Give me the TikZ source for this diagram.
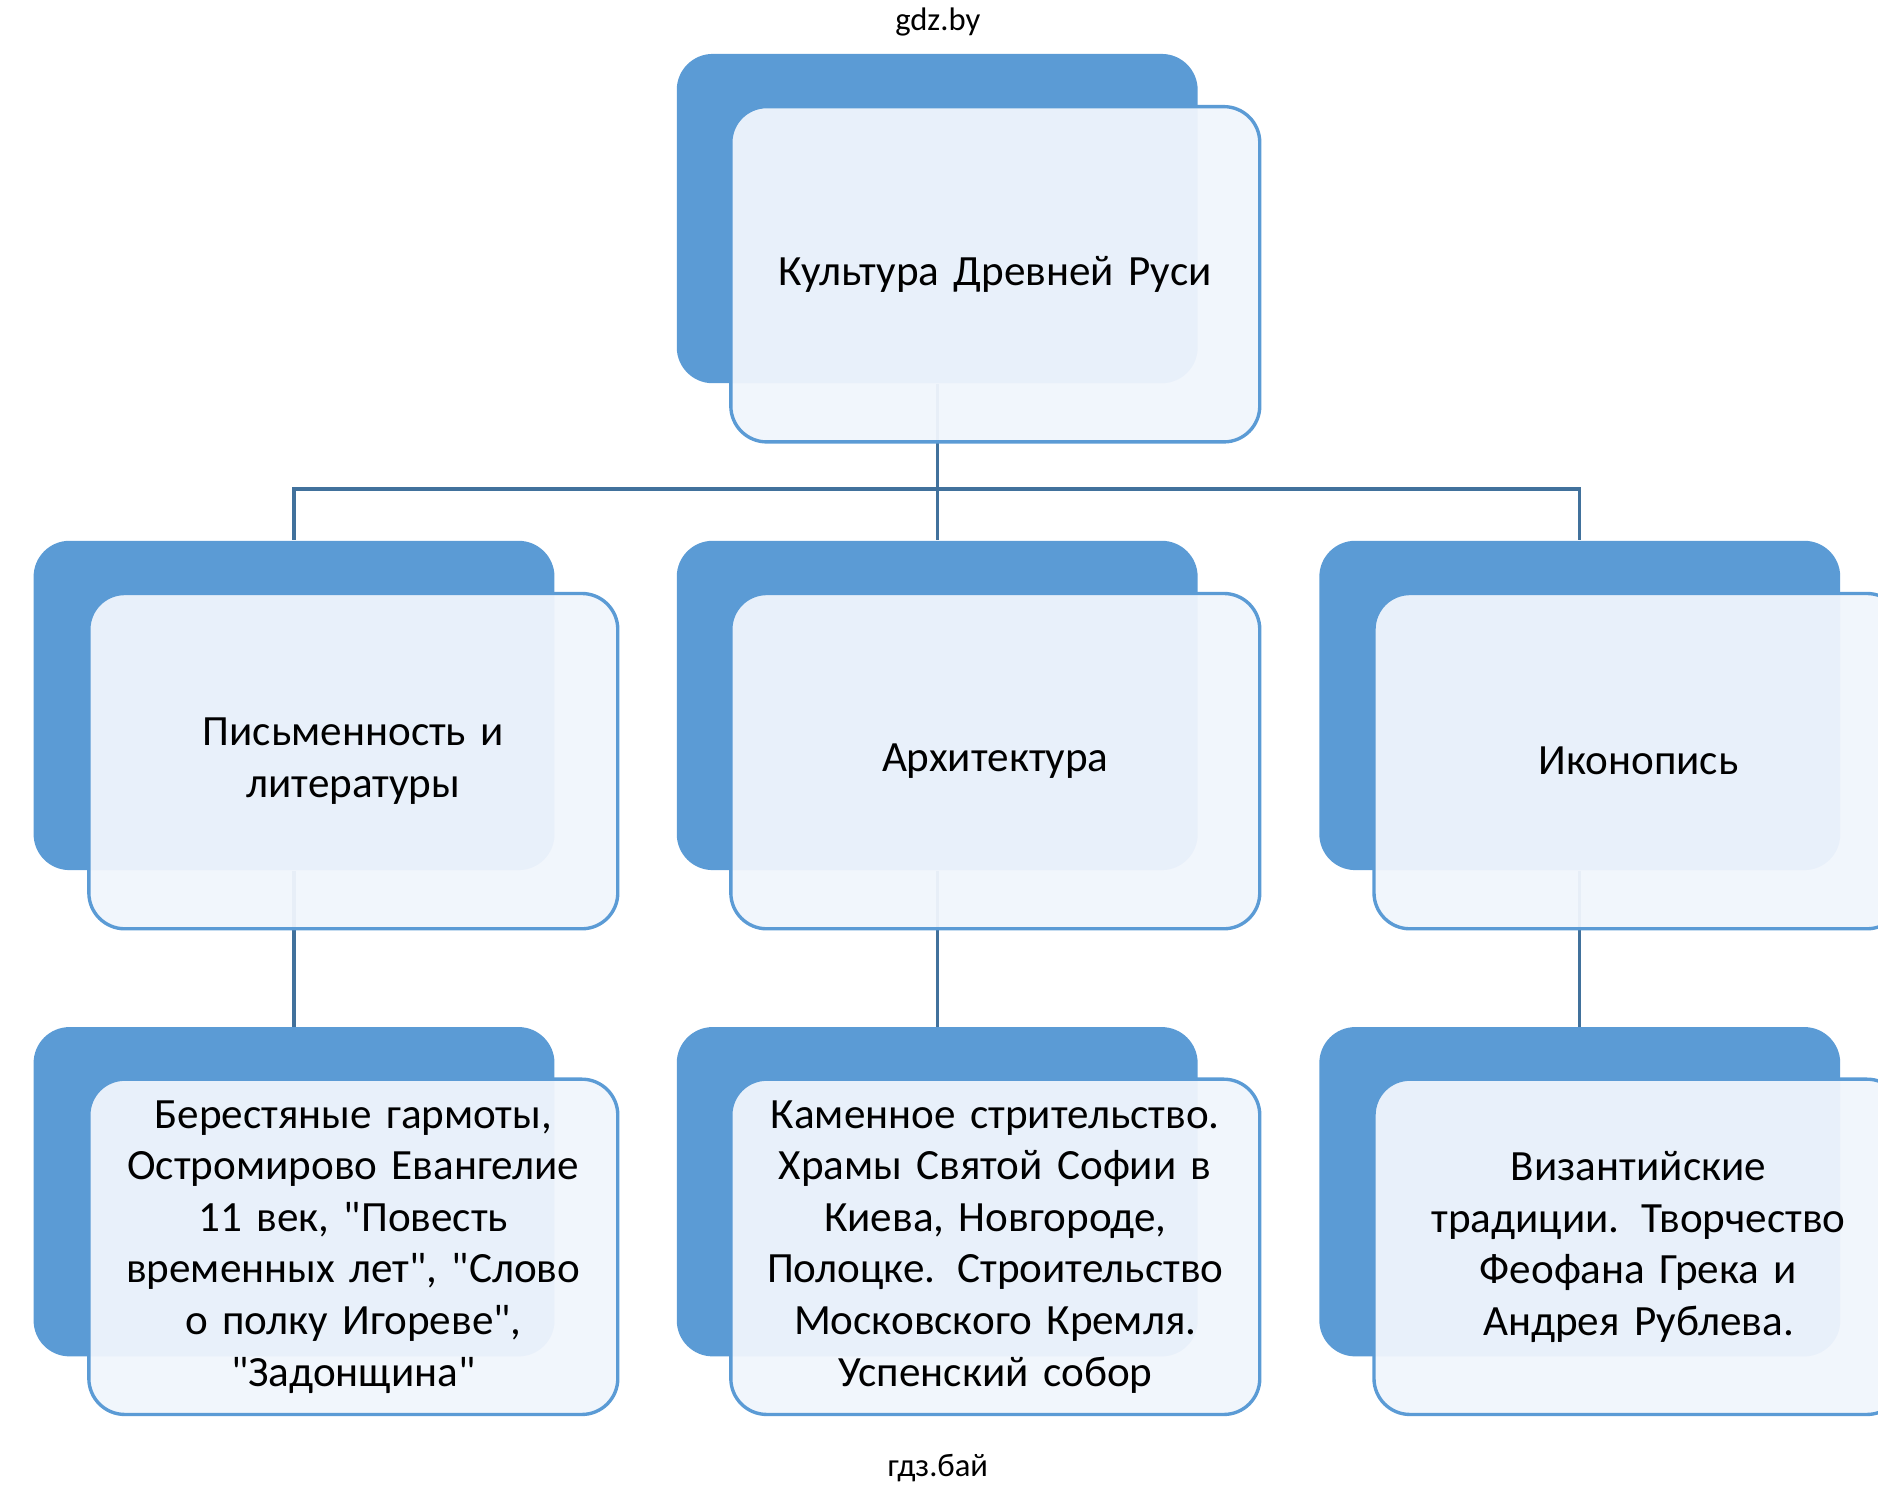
\documentclass[tikz,border=0pt]{standalone}
\usepackage{fontspec}
\setmainfont{Carlito}
\definecolor{boxblue}{RGB}{91,155,213}
\definecolor{boxpale}{RGB}{240,245,252}
\definecolor{linkblue}{RGB}{65,113,156}
\newcommand{\qq}{\textquotedbl}
\begin{document}
\begin{tikzpicture}[x=0.02cm,y=-0.02cm,
  back/.style={rounded corners=0.6cm, fill=boxblue, minimum width=8.7cm, minimum height=5.5cm, inner sep=0pt},
  front/.style={rounded corners=0.6cm, draw=boxblue, line width=1.6pt, fill=boxpale, fill opacity=0.95, text opacity=1,
    minimum width=8.8cm, minimum height=5.6cm, text width=8.6cm, align=center, font=\fontsize{20.5}{24.5}\selectfont},
  link/.style={draw=linkblue, line width=1.6pt}]
\useasboundingbox (0,0) rectangle (1568,1250);

\node[font=\fontsize{15.5}{18}\selectfont] (wm1) at (783,18) {gdz.by};
\node[font=\fontsize{15.5}{18}\selectfont] (wm2) at (783,1226) {гдз.бай};

% top
\node[back] (topb) at (782.5,182.5) {};
% row 2
\node[back] (litb) at (245.5,589) {};
\node[back] (arcb) at (782.5,589) {};
\node[back] (icob) at (1319,589) {};
% row 3
\node[back] (litdb) at (245.5,995) {};
\node[back] (arcdb) at (782.5,995) {};
\node[back] (icodb) at (1319,995) {};

% links
\draw[link] (topb.south) -- ++(0,88) coordinate (hub);
\draw[link] (hub) -| (litb.north);
\draw[link] (hub) -- (arcb.north);
\draw[link] (hub) -| (icob.north);
\draw[link] (litb.south) -- (litdb.north);
\draw[link] (arcb.south) -- (arcdb.north);
\draw[link] (icob.south) -- (icodb.north);

\node[front] (top) at (831,229) {Культура Древней Руси};
\node[front] (lit) at (295,635.5) {Письменность и\\литературы};
\node[front] (arc) at (831,635.5) {Архитектура};
\node[front] (ico) at (1368,635.5) {Иконопись};
\node[front] (litd) at (295,1041) {Берестяные гармоты,\\Остромирово Евангелие\\11 век, \qq Повесть\\временных лет\qq, \qq Слово\\о полку Игореве\qq,\\\qq Задонщина\qq};
\node[front] (arcd) at (831,1041) {Каменное стрительство.\\Храмы Святой Софии в\\Киева, Новгороде,\\Полоцке. Строительство\\Московского Кремля.\\Успенский собор};
\node[front] (icod) at (1368,1041) {Византийские\\традиции. Творчество\\Феофана Грека и\\Андрея Рублева.};
\end{tikzpicture}
\end{document}
